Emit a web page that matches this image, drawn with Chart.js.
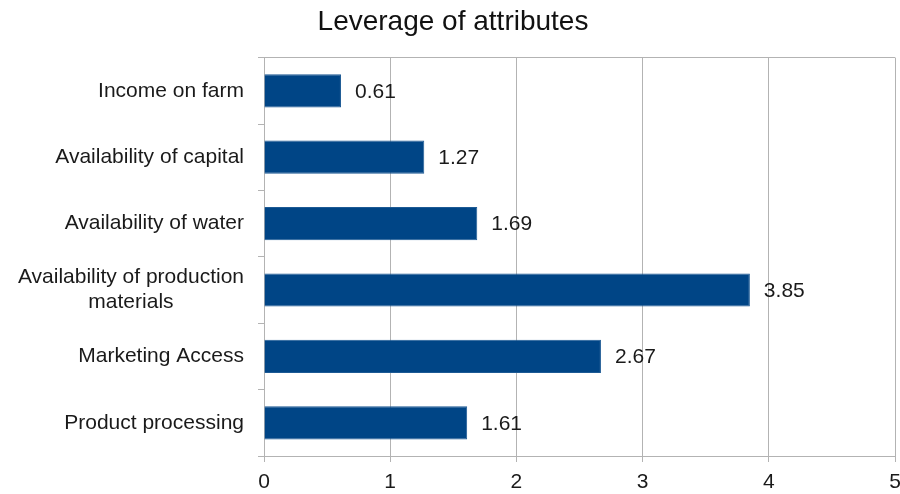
<!DOCTYPE html>
<html>
<head>
<meta charset="utf-8">
<script src="https://cdn.jsdelivr.net/npm/chart.js@4/dist/chart.umd.min.js"></script>
<style>
  html, body { margin: 0; padding: 0; background: #fff; }
  #wrap { width: 900px; height: 494px; }
</style>
</head>
<body>
<div id="wrap"><canvas id="leverageChart"></canvas></div>
<script>
// Data
const categories = [
  'Income on farm',
  'Availability of capital',
  'Availability of water',
  ['Availability of production', 'materials'],
  'Marketing Access',
  'Product processing'
];
const leverage = [0.61, 1.27, 1.69, 3.85, 2.67, 1.61];
const xTicks = [0, 1, 2, 3, 4, 5];

const FONT = '"Liberation Sans", Arial, Helvetica, sans-serif';
const GRID = '#b3b3b3';

// Category labels: right-aligned block, multi-line labels centred within their block
const categoryLabels = {
  id: 'categoryLabels',
  afterDraw(chart) {
    const { ctx, scales: { y } } = chart;
    ctx.save();
    ctx.font = '21px ' + FONT;
    ctx.fillStyle = '#1a1a1a';
    ctx.textBaseline = 'middle';
    const right = y.right - 20;
    categories.forEach((label, i) => {
      const lines = Array.isArray(label) ? label : [label];
      const cy = y.getPixelForTick(i);
      const lh = 25;
      const w = Math.max(...lines.map(l => ctx.measureText(l).width));
      ctx.textAlign = 'center';
      lines.forEach((line, j) => {
        const ly = cy + (j - (lines.length - 1) / 2) * lh;
        ctx.fillText(line, right - w / 2, ly);
      });
    });
    ctx.restore();
  }
};

// Value labels next to the end of each bar
const valueLabels = {
  id: 'valueLabels',
  afterDatasetsDraw(chart) {
    const { ctx } = chart;
    const meta = chart.getDatasetMeta(0);
    ctx.save();
    ctx.font = '21px ' + FONT;
    ctx.fillStyle = '#1a1a1a';
    ctx.textAlign = 'left';
    ctx.textBaseline = 'middle';
    meta.data.forEach((bar, i) => {
      ctx.fillText(leverage[i].toFixed(2), bar.x + 14, bar.y + 1);
    });
    ctx.restore();
  }
};

new Chart(document.getElementById('leverageChart'), {
  type: 'bar',
  data: {
    labels: categories,
    datasets: [{
      label: 'Leverage',
      data: leverage,
      backgroundColor: '#004586',
      borderColor: '#1d5a94',
      borderWidth: 1,
      barPercentage: 0.5,
      categoryPercentage: 1
    }]
  },
  options: {
    indexAxis: 'y',
    responsive: true,
    maintainAspectRatio: false,
    animation: false,
    layout: { padding: { left: 6, right: 0, top: 0, bottom: 0 } },
    plugins: {
      legend: { display: false },
      tooltip: { enabled: false },
      title: {
        display: true,
        text: 'Leverage of attributes',
        color: '#111',
        font: { family: FONT, size: 28, weight: 'normal' },
        padding: { top: 5, bottom: 19 }
      }
    },
    scales: {
      x: {
        min: 0,
        max: 5,
        afterBuildTicks: scale => { scale.ticks = xTicks.map(v => ({ value: v })); },
        afterFit: scale => {
          scale.height = 38;
          scale.paddingLeft = 0;
          scale.paddingRight = 5;
        },
        grid: { color: GRID, lineWidth: 1, tickLength: 6, tickColor: GRID },
        border: { color: GRID },
        ticks: {
          color: '#1a1a1a',
          padding: 8,
          font: { family: FONT, size: 21 }
        }
      },
      y: {
        offset: true,
        afterFit: scale => { scale.width = 258; },
        grid: {
          offset: true,
          color: ctx => ctx.index === 0 ? GRID : 'rgba(0,0,0,0)',
          tickColor: GRID,
          tickLength: 6
        },
        border: { color: GRID },
        ticks: { display: false }
      }
    }
  },
  plugins: [categoryLabels, valueLabels]
});
</script>
</body>
</html>
